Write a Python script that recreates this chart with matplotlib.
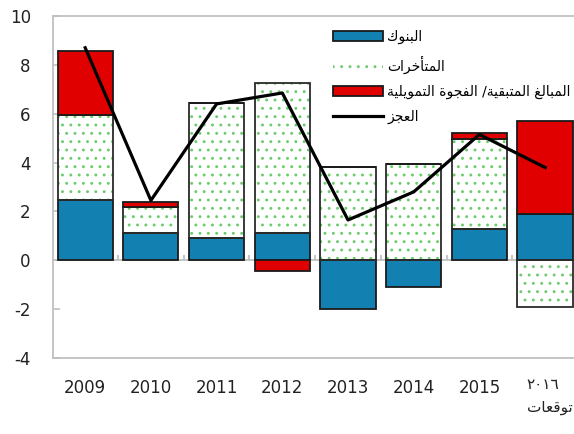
import matplotlib
matplotlib.use('Agg')
from matplotlib import pyplot as plt
from matplotlib.patches import Patch
from matplotlib.lines import Line2D
import numpy as np

years = ['2009', '2010', '2011', '2012', '2013', '2014', '2015']
last_label = '٢٠١٦\nتوقعات'
banks = [2.45, 1.1, 0.9, 1.1, -2.0, -1.1, 1.3, 1.9]
arrears = [3.5, 1.1, 5.55, 6.15, 3.8, 3.95, 3.65, -1.9]
gap = [2.6, 0.2, 0.0, -0.45, 0.0, 0.0, 0.25, 3.8]
deficit = [8.7, 2.45, 6.4, 6.85, 1.65, 2.8, 5.15, 3.8]

lbl_banks = 'البنوك'
lbl_arrears = 'المتأخرات'
lbl_gap = 'المبالغ المتبقية/ الفجوة التمويلية'
lbl_deficit = 'العجز'

# --- tiny arabic shaper (matplotlib does no shaping / bidi) ---
forms = {
    'ا': (0xFE8D, 0xFE8E, None, None), 'أ': (0xFE83, 0xFE84, None, None),
    'ب': (0xFE8F, 0xFE90, 0xFE91, 0xFE92), 'ة': (0xFE93, 0xFE94, None, None),
    'ت': (0xFE95, 0xFE96, 0xFE97, 0xFE98), 'ج': (0xFE9D, 0xFE9E, 0xFE9F, 0xFEA0),
    'خ': (0xFEA5, 0xFEA6, 0xFEA7, 0xFEA8), 'ر': (0xFEAD, 0xFEAE, None, None),
    'ز': (0xFEAF, 0xFEB0, None, None), 'ع': (0xFEC9, 0xFECA, 0xFECB, 0xFECC),
    'غ': (0xFECD, 0xFECE, 0xFECF, 0xFED0), 'ف': (0xFED1, 0xFED2, 0xFED3, 0xFED4),
    'ق': (0xFED5, 0xFED6, 0xFED7, 0xFED8), 'ك': (0xFED9, 0xFEDA, 0xFEDB, 0xFEDC),
    'ل': (0xFEDD, 0xFEDE, 0xFEDF, 0xFEE0), 'م': (0xFEE1, 0xFEE2, 0xFEE3, 0xFEE4),
    'ن': (0xFEE5, 0xFEE6, 0xFEE7, 0xFEE8), 'و': (0xFEED, 0xFEEE, None, None),
    'ي': (0xFEF1, 0xFEF2, 0xFEF3, 0xFEF4),
}

def shape_word(s):
    out = []
    for i, ch in enumerate(s):
        if ch not in forms:
            out.append(ch)
            continue
        prev = s[i-1] if i > 0 else None
        nxt = s[i+1] if i < len(s)-1 else None
        pj = prev in forms and forms[prev][2] is not None
        nj = forms[ch][2] is not None and nxt in forms
        iso, fin, ini, med = forms[ch]
        if pj and nj:
            c = med
        elif pj:
            c = fin
        elif nj:
            c = ini
        else:
            c = iso
        out.append(chr(c))
    return ''.join(out)

def ar(s):
    lines = []
    for line in s.split('\n'):
        # keep arabic-indic digit runs left-to-right
        if all(ch in '٠١٢٣٤٥٦٧٨٩' for ch in line):
            lines.append(line)
        else:
            lines.append(shape_word(line)[::-1])
    return '\n'.join(lines)

plt.rcParams['axes.unicode_minus'] = False
plt.rcParams['hatch.linewidth'] = 0.9

blue = '#1380b2'
red = '#e00000'
green = '#6ccc6c'
edge = '#1a1a1a'

fig = plt.figure(figsize=(5.74, 4.34), dpi=100)
ax = fig.add_axes([53/574, 1-358/434, 1-53/574, (358-16)/434])

x = np.arange(len(banks))
w = 0.84
pos = np.zeros(len(x))
neg = np.zeros(len(x))
for vals, kind in [(banks, 'b'), (arrears, 'a'), (gap, 'g')]:
    v = np.array(vals)
    bottom = np.where(v >= 0, pos, neg)
    if kind == 'a':
        ax.bar(x, v, w, bottom=bottom, color='white', edgecolor=green,
               linewidth=0, hatch='..', zorder=2)
        ax.bar(x, v, w, bottom=bottom, fill=False, edgecolor='#2a2a2a',
               linewidth=1.3, zorder=3)
    else:
        c = blue if kind == 'b' else red
        ax.bar(x, v, w, bottom=bottom, color=c, edgecolor=edge,
               linewidth=1.3, zorder=3)
    pos = pos + np.where(v >= 0, v, 0)
    neg = neg + np.where(v < 0, v, 0)

ax.plot(x, deficit, color='black', lw=2.3, zorder=5)

ax.axhline(0, color='#c0c0c0', lw=1.3, zorder=1)
ax.vlines(np.arange(len(x)-1) + 0.5, 0, 0.22, color='#c0c0c0', lw=1.3, zorder=1)

ax.set_xlim(-0.49, 7.44)
ax.set_ylim(-4, 10)
ax.set_yticks(range(-4, 11, 2))
ax.set_xticks(range(len(years)))
ax.set_xticklabels(years)
ax.tick_params(axis='x', length=0, pad=15, labelsize=12, labelcolor='#222222')
ax.tick_params(axis='y', direction='in', length=5, width=1.2, color='#c0c0c0',
               pad=16, labelsize=12, labelcolor='#222222')
ax.text(6.72, -0.055, ar(last_label), transform=ax.get_xaxis_transform(),
        ha='left', va='top', fontsize=11, color='#222222', linespacing=1.7)
for s in ['left', 'top', 'bottom']:
    ax.spines[s].set_color('#c0c0c0')
    ax.spines[s].set_linewidth(1.3)
ax.spines['right'].set_visible(False)

handles = [
    Patch(facecolor=blue, edgecolor=edge, lw=1.3),
    Patch(facecolor='white', edgecolor=green, hatch='..', lw=0),
    Patch(facecolor=red, edgecolor=edge, lw=1.3),
    Line2D([], [], color='black', lw=2.3),
]
labels = [ar(lbl_banks), ar(lbl_arrears), ar(lbl_gap), ar(lbl_deficit)]
ax.legend(handles, labels, loc='upper left', bbox_to_anchor=(333/574, 1-30/434),
          bbox_transform=fig.transFigure, frameon=False, fontsize=10,
          handlelength=3.6, handleheight=0.75, handletextpad=0.3,
          labelspacing=0.8, borderpad=0, borderaxespad=0)

fig.savefig('out.png', dpi=100)
